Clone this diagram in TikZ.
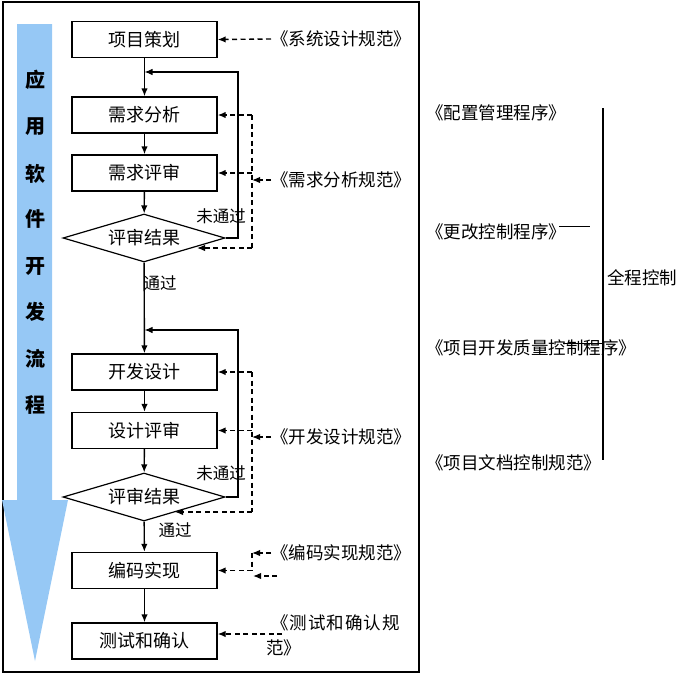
\documentclass[tikz,border=0pt]{standalone}
\usepackage{fontspec}
\setmainfont{Noto Sans CJK SC}
\usetikzlibrary{arrows.meta,shapes.geometric,calc}
\definecolor{flowblue}{RGB}{150,200,245}
\begin{document}
\begin{tikzpicture}[x=1pt,y=-1pt,
  box/.style={draw,line width=1.4pt,minimum width=145pt,minimum height=36pt,inner sep=0pt,font=\fontsize{18}{20}\selectfont},
  dec/.style={draw,diamond,aspect=3.4,line width=1.2pt,minimum width=162pt,minimum height=48pt,inner sep=0pt,font=\fontsize{18}{20}\selectfont},
  lab/.style={inner sep=1pt,font=\fontsize{16.5}{20}\selectfont},
  side/.style={inner sep=0pt,anchor=west,font=\fontsize{17.5}{20}\selectfont},
  vert/.style={inner sep=0pt,font=\fontsize{20}{22}\selectfont\bfseries},
  flow/.style={line width=1.4pt,-{Latex[length=8pt,width=6.5pt]}},
  loopline/.style={line width=1.2pt},
  dline/.style={line width=1.4pt,dash pattern=on 5pt off 3.5pt},
  dflow/.style={dline,-{Latex[length=8pt,width=6.5pt]}}]
\useasboundingbox (0,0) rectangle (699,675);
% frame
\draw[line width=1.2pt] (3,2) rectangle (419,672);
% big blue arrow
\fill[flowblue] (17,24) -- (52,24) -- (52,500) -- (68,500) -- (35,661) -- (2,500) -- (17,500) -- cycle;
\foreach \ch/\yy in {应/80,用/127,软/174,件/219,开/266,发/312,流/359,程/405}
  \node[vert] at (35,\yy) {\ch};
% nodes
\node[box] (p1) at (144.5,39.5) {项目策划};
\node[box] (a2) at (144.5,115) {需求分析};
\node[box] (a3) at (144.5,173) {需求评审};
\node[dec] (d1) at (144,238) {评审结果};
\node[box] (b1) at (144.5,372) {开发设计};
\node[box] (b2) at (144.5,430.5) {设计评审};
\node[dec] (d2) at (144,497) {评审结果};
\node[box] (c1) at (144.5,570.5) {编码实现};
\node[box] (c2) at (144.5,641) {测试和确认};
% main flow
\draw[flow] (p1) -- (a2);
\draw[flow] (a2) -- (a3);
\draw[flow] (a3) -- (d1);
\draw[flow] (d1) -- (b1);
\draw[flow] (b1) -- (b2);
\draw[flow] (b2) -- (d2);
\draw[flow] (d2) -- (c1);
\draw[flow] (c1) -- (c2);
% loops
\coordinate (r1a) at (238,238); \coordinate (r1b) at (238,72); \coordinate (m1) at (144.5,72);
\draw[loopline,-{Latex[length=8pt,width=6.5pt]}] (d1.east) -- (r1a) -- (r1b) -- (m1);
\coordinate (r2a) at (238,497); \coordinate (r2b) at (238,330); \coordinate (m2) at (144.5,330);
\draw[loopline,-{Latex[length=8pt,width=6.5pt]}] (d2.east) -- (r2a) -- (r2b) -- (m2);
\node[lab] (n1) at (221,216) {未通过};
\node[lab] (y1) at (160,283) {通过};
\node[lab] (n2) at (221,473) {未通过};
\node[lab] (y2) at (175,530) {通过};
% standards labels
\node[side] (s1) at (271,39) {《系统设计规范》};
\draw[dflow] (s1.west) -- (p1.east);
\node[side] (s2) at (271,180) {《需求分析规范》};
\coordinate (v1t) at (252,115); \coordinate (v1b) at (252,248); \coordinate (v1m) at (252,173);
\coordinate (e1) at (197,248);
\draw[dline] (v1t) -- (v1b);
\draw[dflow] (v1t) -- (a2.east);
\draw[dflow] (v1m) -- (a3.east);
\draw[dflow] (v1b) -- (e1);
\draw[dflow] (s2.west) -- (s2.west -| v1t);
\node[side] (s3) at (271,437) {《开发设计规范》};
\coordinate (v2t) at (252,372); \coordinate (v2b) at (252,512); \coordinate (v2m) at (252,430.5);
\coordinate (e2) at (175,512);
\draw[dline] (v2t) -- (v2b);
\draw[dflow] (v2t) -- (b1.east);
\draw[dflow] (v2m) -- (b2.east);
\draw[dflow] (v2b) -- (e2);
\draw[dflow] (s3.west) -- (s3.west -| v2t);
\node[side] (s4) at (271,553) {《编码实现规范》};
\coordinate (v3t) at (252,553); \coordinate (v3b) at (252,570.5);
\draw[dflow] (s4.west) -- (v3t);
\draw[dline] (v3t) -- (v3b);
\draw[dflow] (v3b) -- (c1.east);
\coordinate (x3a) at (277,576); \coordinate (x3b) at (253,576);
\draw[dflow] (x3a) -- (x3b);
\node[side] (s5) at (271,623) {《\hspace{1pt}测\hspace{1pt}试\hspace{1pt}和\hspace{1pt}确\hspace{1pt}认\hspace{1pt}规};
\node[side] (s5b) at (266,648) {范》};
\coordinate (t5) at (282,634);
\draw[dflow] (t5) -- (t5 -| c2.east);
% right side
\node[side] (q1) at (426,113) {《配置管理程序》};
\node[side] (q2) at (426,232) {《更改控制程序》};
\node[side] (q3) at (426,348) {《项目开发质量控制程序》};
\node[side] (q4) at (426,463) {《项目文档控制规范》};
\coordinate (bt) at (603,108); \coordinate (bb) at (603,460);
\draw[line width=2pt] (bt) -- (bb);
\coordinate (q2s) at (559,226); \coordinate (q2e) at (590,226);
\draw[line width=1pt] (q2s) -- (q2e);
\coordinate (q3a) at (563,343);
\draw[line width=1pt] (q3a) -- (q3a -| bt);
\node[side] (all) at (607,278) {全程控制};
\end{tikzpicture}
\end{document}
